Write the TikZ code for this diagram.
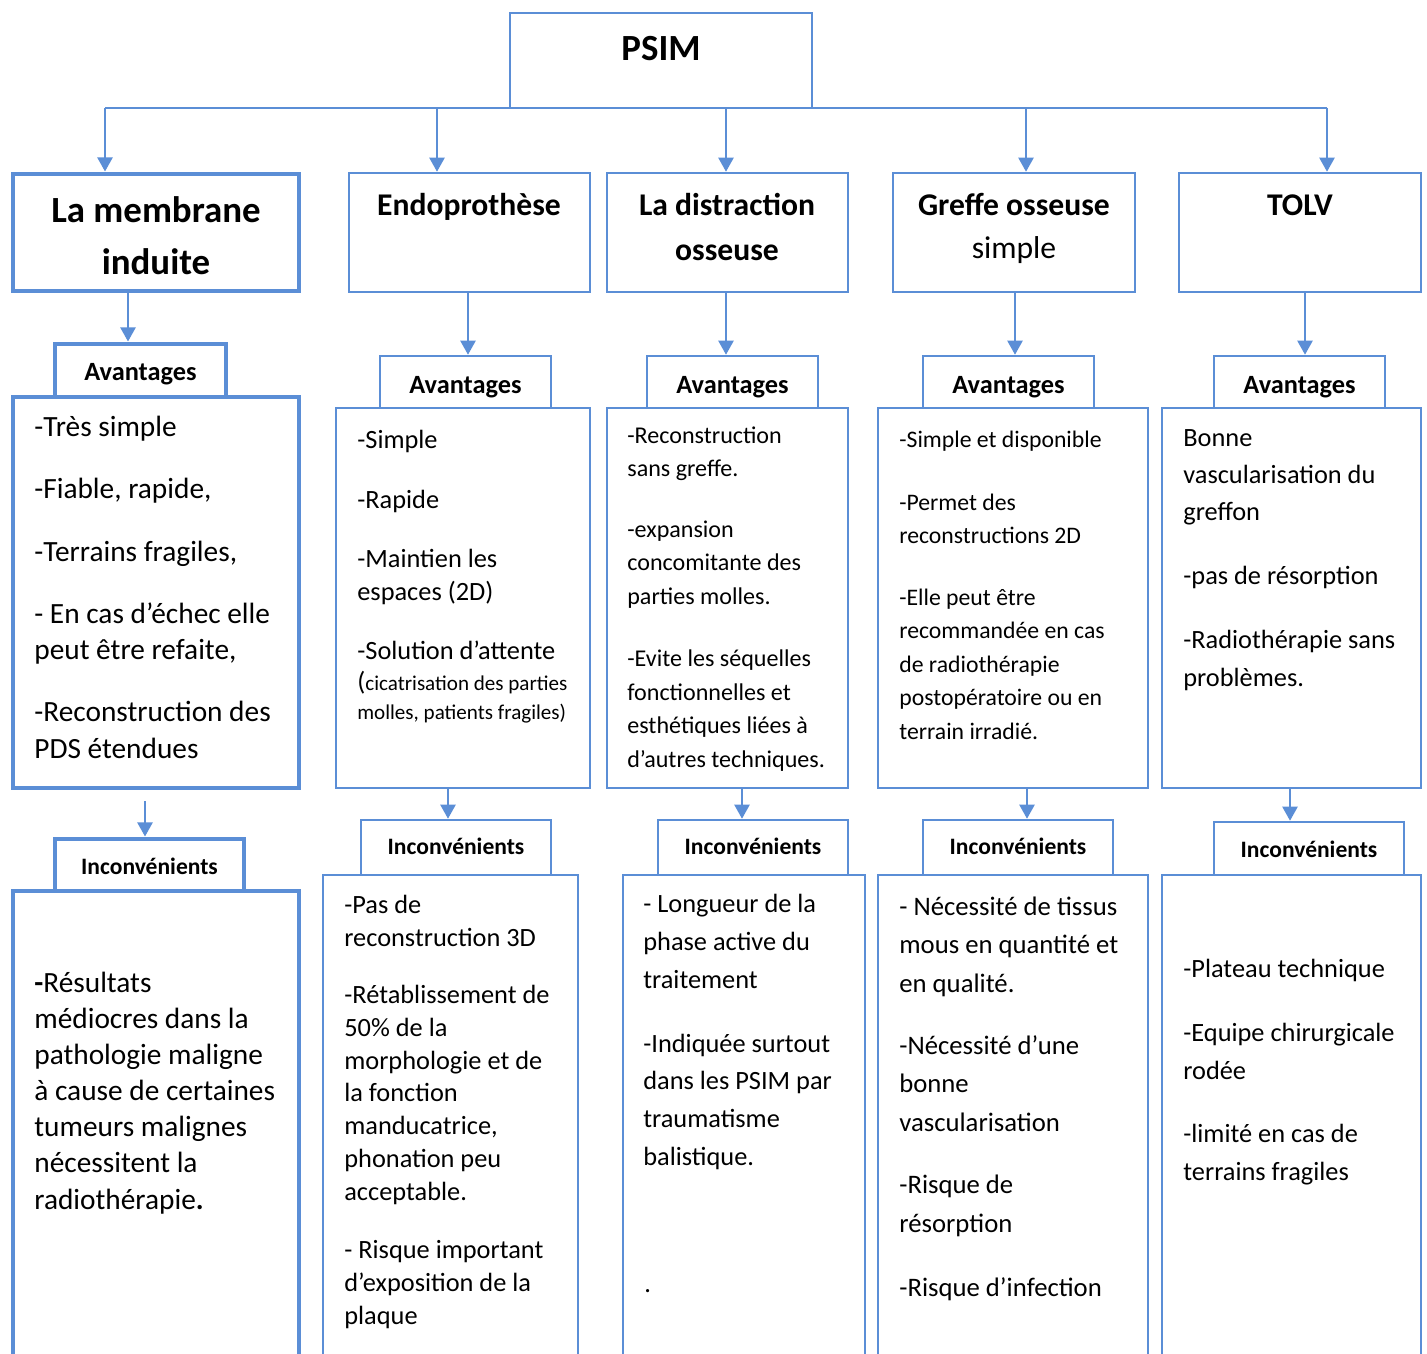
\documentclass[tikz,border=0pt]{standalone}
\usepackage{fontspec}
\setmainfont{Carlito}
\usetikzlibrary{arrows.meta}
\usetikzlibrary{positioning,fit}
\definecolor{psimblue}{RGB}{91,142,214}

\begin{document}
\begin{tikzpicture}[x=0.02cm, y=-0.02cm,
    box/.style = {draw=psimblue, line width=1.4pt, inner sep=0pt, fit={#1}},
    boxT/.style = {box={#1}, line width=2.8pt},
    link/.style = {draw=psimblue, line width=1.4pt},
    arr/.style = {link, -{Triangle[width=8.5pt,length=8pt]}},
    head/.style = {anchor=base, align=center, inner sep=0pt, font=\fontsize{18}{26}\selectfont\bfseries},
    lab/.style = {anchor=base, inner sep=0pt, font=\fontsize{15}{18}\selectfont\bfseries},
    labI/.style = {anchor=base, inner sep=0pt, font=\fontsize{13.4}{16}\selectfont\bfseries},
    txt/.style = {anchor=base west, align=left, inner sep=0pt},
    lmitxt/.style = {txt, font=\fontsize{16.7}{20.5}\selectfont},
    endotxt/.style = {txt, font=\fontsize{15}{18.8}\selectfont},
    partxt/.style = {txt, font=\fontsize{12}{16}\selectfont},
    disttxt/.style = {txt, font=\fontsize{13.7}{19}\selectfont},
    greftxt/.style = {txt, font=\fontsize{13.5}{19}\selectfont},
    tolvtxt/.style = {txt, font=\fontsize{15}{21.3}\selectfont}]
  \useasboundingbox (0,0) rectangle (1427,1354);
  \clip (0,0) rectangle (1427,1354);

  % top box and first level
  \node[box={(510,13) (812,108)}] (psim) {};
  \node[anchor=base, inner sep=0pt, font=\fontsize{21}{26}\selectfont\bfseries] (psimt) at (661,61) {PSIM};

  \node[boxT={(13,174) (299,291)}] (lmi) {};
  \node[boxT={(55,344) (226,397)}] (lmiav) {};
  \node[boxT={(13,397) (299,788)}] (lmiA) {};
  \node[boxT={(55,839) (244,891)}] (lmiinc) {};
  \node[boxT={(13,891) (299,1380)}] (lmiI) {};

  \node[box={(349,173) (590,292)}] (endo) {};
  \node[box={(380,356) (551,408)}] (endoav) {};
  \node[box={(336,408) (590,788)}] (endoA) {};
  \node[box={(361,820) (551,875)}] (endoinc) {};
  \node[box={(323,875) (578,1380)}] (endoI) {};

  \node[box={(607,173) (848,292)}] (dist) {};
  \node[box={(647,356) (818,408)}] (distav) {};
  \node[box={(607,408) (848,788)}] (distA) {};
  \node[box={(658,820) (848,875)}] (distinc) {};
  \node[box={(623,875) (865,1380)}] (distI) {};

  \node[box={(893,173) (1135,292)}] (greffe) {};
  \node[box={(923,356) (1094,408)}] (greffeav) {};
  \node[box={(878,408) (1148,788)}] (greffeA) {};
  \node[box={(923,820) (1113,875)}] (greffeinc) {};
  \node[box={(878,875) (1148,1380)}] (greffeI) {};

  \node[box={(1179,173) (1421,292)}] (tolv) {};
  \node[box={(1214,356) (1385,408)}] (tolvav) {};
  \node[box={(1162,408) (1421,788)}] (tolvA) {};
  \node[box={(1214,822) (1404,875)}] (tolvinc) {};
  \node[box={(1162,875) (1421,1380)}] (tolvI) {};

  % titles
  \node[head, font=\fontsize{21}{29.6}\selectfont\bfseries] (lmit) at (156,275) {La membrane\\induite};
  \node[head] (endot) at (469,216) {Endoprothèse};
  \node[head] (distt) at (727,261) {La distraction\\osseuse};
  \node[head, font=\fontsize{18}{25}\selectfont\bfseries] (greffet) at (1014,259) {Greffe osseuse\\\mdseries simple};
  \node[head] (tolvt) at (1300,216) {TOLV};

  \node[lab] (lmiavt) at (lmiav.center |- 0,381) {Avantages};
  \node[lab] (endoavt) at (endoav.center |- 0,394) {Avantages};
  \node[lab] (distavt) at (distav.center |- 0,394) {Avantages};
  \node[lab] (greffeavt) at (greffeav.center |- 0,394) {Avantages};
  \node[lab] (tolvavt) at (tolvav.center |- 0,394) {Avantages};

  \node[labI] (lmiinct) at (lmiinc.center |- 0,874) {Inconvénients};
  \node[labI] (endoinct) at (endoinc.center |- 0,854) {Inconvénients};
  \node[labI] (distinct) at (distinc.center |- 0,854) {Inconvénients};
  \node[labI] (greffeinct) at (greffeinc.center |- 0,854) {Inconvénients};
  \node[labI] (tolvinct) at (tolvinc.center |- 0,857) {Inconvénients};

  % connectors
  \coordinate (b1) at (105,108);
  \coordinate (b2) at (437,108);
  \coordinate (b3) at (726,108);
  \coordinate (b4) at (1026,108);
  \coordinate (b5) at (1327,108);
  \draw[link] (b1) -- (b5);
  \draw[arr] (b1) -- (b1 |- lmi.north);
  \draw[arr] (b2) -- (b2 |- endo.north);
  \draw[arr] (b3) -- (b3 |- dist.north);
  \draw[arr] (b4) -- (b4 |- greffe.north);
  \draw[arr] (b5) -- (b5 |- tolv.north);

  \draw[arr] (lmi.south -| 128,0) -- (lmiav.north -| 128,0);
  \draw[arr] (endo.south -| 468,0) -- (endoav.north -| 468,0);
  \draw[arr] (dist.south -| 726,0) -- (distav.north -| 726,0);
  \draw[arr] (greffe.south -| 1015,0) -- (greffeav.north -| 1015,0);
  \draw[arr] (tolv.south -| 1305,0) -- (tolvav.north -| 1305,0);

  \draw[arr] (lmiA.south -| 145,0) ++(0,11) -- (lmiinc.north -| 145,0);
  \draw[arr] (endoA.south -| 448,0) -- (endoinc.north -| 448,0);
  \draw[arr] (distA.south -| 742,0) -- (distinc.north -| 742,0);
  \draw[arr] (greffeA.south -| 1027,0) -- (greffeinc.north -| 1027,0);
  \draw[arr] (tolvA.south -| 1290,0) -- (tolvinc.north -| 1290,0);

  % avantages (node base = last line)
  \node[lmitxt] (la1) at (34,437) {-Très simple};
  \node[lmitxt] (la2) at (34,499) {-Fiable, rapide,};
  \node[lmitxt] (la3) at (34,562) {-Terrains fragiles,};
  \node[lmitxt] (la4) at (34,660) {- En cas d’échec elle\\peut être refaite,};
  \node[lmitxt] (la5) at (34,758) {-Reconstruction des\\PDS étendues};

  \node[endotxt] (ea1) at (357,449) {-Simple};
  \node[endotxt] (ea2) at (357,509) {-Rapide};
  \node[endotxt] (ea3) at (357,601) {-Maintien les\\espaces (2D)};
  \node[endotxt] (ea4) at (357,660) {-Solution d’attente};
  \node[partxt] (ea5) at (357,719) {{\fontsize{15}{16}\selectfont(}cicatrisation des parties\\molles, patients fragiles)};

  \node[disttxt] (da1) at (627,477) {-Reconstruction\\sans greffe.};
  \node[disttxt] (da2) at (627,604) {-expansion\\concomitante des\\parties molles.};
  \node[disttxt] (da3) at (627,767) {-Evite les séquelles\\fonctionnelles et\\esthétiques liées à\\d’autres techniques.};

  \node[greftxt] (ga1) at (899,448) {-Simple et disponible};
  \node[greftxt] (ga2) at (899,544) {-Permet des\\reconstructions 2D};
  \node[greftxt] (ga3) at (899,739) {-Elle peut être\\recommandée en cas\\de radiothérapie\\postopératoire ou en\\terrain irradié.};

  \node[tolvtxt] (ta1) at (1183,521) {Bonne\\vascularisation du\\greffon};
  \node[tolvtxt] (ta2) at (1183,585) {-pas de résorption};
  \node[tolvtxt] (ta3) at (1183,686) {-Radiothérapie sans\\problèmes.};

  % inconvenients
  \node[lmitxt] (li1) at (34,1209) {\textbf{-}Résultats\\médiocres dans la\\pathologie maligne\\à cause de certaines\\tumeurs malignes\\nécessitent la\\radiothérapie\textbf{.}};

  \node[endotxt, font=\fontsize{15}{18.6}\selectfont] (ei1) at (344,946) {-Pas de\\reconstruction 3D};
  \node[endotxt, font=\fontsize{15}{18.6}\selectfont] (ei2) at (344,1200) {-Rétablissement de\\50\% de la\\morphologie et de\\la fonction\\manducatrice,\\phonation peu\\acceptable.};
  \node[endotxt, font=\fontsize{15}{18.6}\selectfont] (ei3) at (344,1324) {- Risque important\\d’exposition de la\\plaque};

  \node[endotxt, font=\fontsize{15}{21.4}\selectfont] (di1) at (643,988) {- Longueur de la\\phase active du\\traitement};
  \node[endotxt, font=\fontsize{15}{21.4}\selectfont] (di2) at (643,1165) {-Indiquée surtout\\dans les PSIM par\\traumatisme\\balistique.};
  \node[endotxt] (di3) at (644,1292) {.};

  \node[endotxt, font=\fontsize{15.2}{21.8}\selectfont] (gi1) at (899,992) {- Nécessité de tissus\\mous en quantité et\\en qualité.};
  \node[endotxt, font=\fontsize{15.2}{21.8}\selectfont] (gi2) at (899,1131) {-Nécessité d’une\\bonne\\vascularisation};
  \node[endotxt, font=\fontsize{15.2}{21.8}\selectfont] (gi3) at (899,1232) {-Risque de\\résorption};
  \node[endotxt, font=\fontsize{15.2}{21.8}\selectfont] (gi4) at (899,1296) {-Risque d’infection};

  \node[endotxt, font=\fontsize{15}{21.6}\selectfont] (ti1) at (1183,977) {-Plateau technique};
  \node[endotxt, font=\fontsize{15}{21.6}\selectfont] (ti2) at (1183,1079) {-Equipe chirurgicale\\rodée};
  \node[endotxt, font=\fontsize{15}{21.6}\selectfont] (ti3) at (1183,1180) {-limité en cas de\\terrains fragiles};
\end{tikzpicture}
\end{document}
